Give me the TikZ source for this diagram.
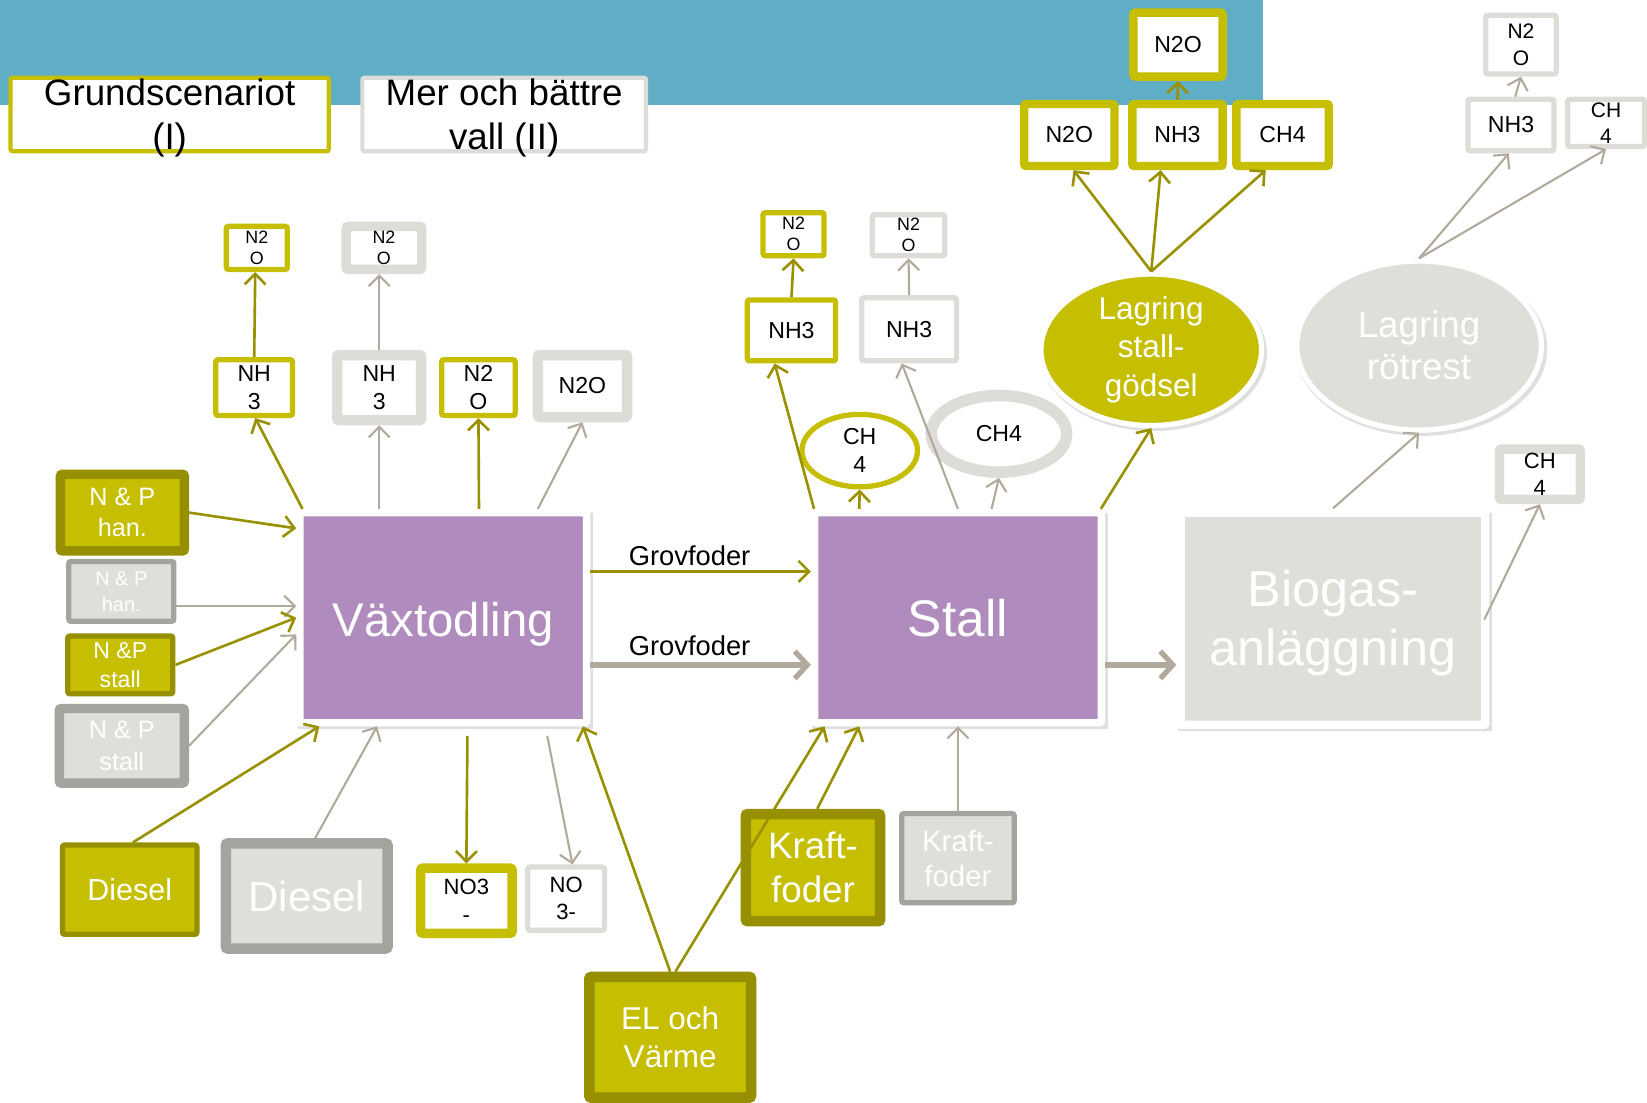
\documentclass[tikz,border=0pt]{standalone}
\usepackage{fontspec}
\setmainfont{Liberation Sans}
\usepackage{tikz}
\usetikzlibrary{arrows.meta,shapes.geometric,shadows}

\definecolor{gulgron}{HTML}{C6BE00}
\definecolor{mork}{HTML}{968F00}
\definecolor{lila}{HTML}{B08BBE}
\definecolor{ljusgra}{HTML}{E0DED8}
\definecolor{kantgra}{HTML}{DEDCD6}
\definecolor{mellangra}{HTML}{A5A39E}
\definecolor{himmel}{HTML}{5FAEC6}
\definecolor{pilgra}{HTML}{B1AA9C}
\definecolor{pilgul}{HTML}{9A9100}

\begin{document}
\begin{tikzpicture}[x=1pt,y=-1pt,
  txt/.style 2 args={font=\fontsize{#1}{#2}\selectfont},
  box/.style={rectangle,rounded corners=2pt,inner sep=0pt,align=center},
  gulram/.style={box,draw=gulgron,fill=white,text=black},
  grram/.style={box,draw=kantgra,fill=white,text=black},
  gulin/.style={box,draw=mork,fill=gulgron,text=white},
  grin/.style={box,draw=mellangra,fill=ljusgra,text=white},
  skugga/.style={drop shadow={shadow xshift=2pt,shadow yshift=-3pt,shadow scale=1.03,opacity=0.25}},
  process/.style={box,rounded corners=1pt,draw=white,text=white,skugga},
  lager/.style={ellipse,draw=white,line width=5pt,text=white,align=center,inner sep=0pt,skugga},
  gulpil/.style={draw=pilgul,line width=2.5pt,-{Straight Barb[length=10pt,width=20pt]}},
  grpil/.style={draw=pilgra,line width=2pt,-{Straight Barb[length=10pt,width=20pt]}},
  tjockpil/.style={draw=pilgra,line width=5pt,-{Straight Barb[length=12pt,width=26pt]}}]
\useasboundingbox (0,0) rectangle (1568,1050);
\fill[himmel] (0,0) rectangle (1202,100);

% legend
\node (grund) [box,draw=gulgron,fill=white,line width=4pt,minimum width=303pt,minimum height=70pt] at (161.5,109) {};
\node (grundtxt) [txt={35}{42},align=center] at ([yshift=-3pt]grund.center) {Grundscenariot\\(I)};
\node (vall) [box,draw=kantgra,fill=white,line width=4pt,minimum width=270pt,minimum height=70pt] at (480,109) {};
\node (valltxt) [txt={35}{42},align=center] at ([yshift=-3pt]vall.center) {Mer och bättre\\vall (II)};

% main processes
\node (vaxt) [process,fill=lila,line width=7pt,minimum width=273pt,minimum height=200pt,txt={45}{54},text height=45pt,text depth=10pt] at (422,588) {Växtodling};
\node (stall) [process,fill=lila,line width=7pt,minimum width=273pt,minimum height=200pt,txt={49}{58}] at (912,588) {Stall};
\node (bio) [process,fill=ljusgra,line width=8pt,minimum width=290pt,minimum height=202pt,txt={48}{57},text height=100pt,text depth=10pt] at (1269,589) {Biogas-\\anläggning};

% storage
\node (lagstall) [lager,fill=gulgron,minimum width=210pt,minimum height=132pt,txt={30}{37}] at (1096,333) {Lagring\\stall-\\gödsel};
\node (rotrest) [lager,fill=ljusgra,minimum width=233pt,minimum height=161pt,txt={35}{40}] at (1351,329) {Lagring\\rötrest};

% emissions from stall manure storage
\node (sgtop) [gulram,line width=8pt,minimum width=85pt,minimum height=61pt,txt={22}{26}] at (1121.5,42.5) {N2O};
\node (sgn2o) [gulram,line width=8pt,minimum width=86pt,minimum height=59pt,txt={22}{26}] at (1018,128.5) {N2O};
\node (sgnh3) [gulram,line width=8pt,minimum width=86pt,minimum height=59pt,txt={22}{26}] at (1121,128.5) {NH3};
\node (sgch4) [gulram,line width=8pt,minimum width=88pt,minimum height=59pt,txt={22}{26}] at (1221,128.5) {CH4};

% emissions from digestate storage
\node (rtn2o) [grram,line width=5pt,minimum width=67pt,minimum height=56pt,txt={20}{26}] at (1448,42.5) {N2\\O};
\node (rtnh3) [grram,line width=5pt,minimum width=82pt,minimum height=49pt,txt={22}{26}] at (1438.5,119) {NH3};
\node (rtch4) [grram,line width=5pt,minimum width=73pt,minimum height=45pt,txt={20}{25}] at (1529,117) {CH\\4};
\node (bioch4) [grram,line width=9pt,minimum width=77pt,minimum height=48pt,txt={21}{26}] at (1466,451.5) {CH\\4};

% emissions from crops
\node (vn2oa) [gulram,line width=5pt,minimum width=58pt,minimum height=41pt,txt={17}{20}] at (244.5,236) {N2\\O};
\node (vn2ob) [grram,line width=9pt,minimum width=72pt,minimum height=41pt,txt={17}{20}] at (365.5,236) {N2\\O};
\node (vnh3a) [gulram,line width=5pt,minimum width=73pt,minimum height=53pt,txt={22}{27}] at (242,369) {NH\\3};
\node (vnh3b) [grram,line width=10pt,minimum width=80pt,minimum height=62pt,txt={22}{27}] at (361,369) {NH\\3};
\node (vn2oc) [gulram,line width=5pt,minimum width=70pt,minimum height=53pt,txt={22}{27}] at (455.5,369) {N2\\O};
\node (vn2od) [grram,line width=10pt,minimum width=85pt,minimum height=59pt,txt={22}{26}] at (554.5,367.5) {N2O};
\node (no3a) [gulram,line width=9pt,minimum width=87pt,minimum height=62pt,txt={21}{26}] at (444,857.5) {NO3\\-};
\node (no3b) [grram,line width=5pt,minimum width=73pt,minimum height=60pt,txt={21}{26}] at (539,855.5) {NO\\3-};

% emissions from stall
\node (sn2oa) [gulram,line width=5pt,minimum width=58pt,minimum height=41pt,txt={17}{20}] at (755.5,223) {N2\\O};
\node (sn2ob) [grram,line width=5pt,minimum width=69pt,minimum height=39pt,txt={17}{20}] at (865,224) {N2\\O};
\node (snh3a) [gulram,line width=5pt,minimum width=84pt,minimum height=58pt,txt={22}{26}] at (753.5,314.5) {NH3};
\node (snh3b) [grram,line width=5pt,minimum width=90pt,minimum height=60pt,txt={22}{26}] at (865.5,313.5) {NH3};
\node (sch4a) [ellipse,draw=gulgron,fill=white,line width=5pt,inner sep=0pt,align=center,minimum width=110pt,minimum height=69pt,txt={22}{27}] at (818.5,429) {CH\\4};
\node (sch4b) [ellipse,draw=kantgra,fill=white,line width=11pt,inner sep=0pt,minimum width=129pt,minimum height=73pt,txt={22}{26}] at (951,413) {CH4};

% inputs
\node (nphy) [gulin,line width=9pt,minimum width=118pt,minimum height=73pt,txt={24}{30}] at (116.5,488) {N \& P\\han.};
\node (nphg) [grin,line width=5pt,minimum width=100pt,minimum height=57pt,txt={19}{25}] at (115.5,563) {N \& P\\han.};
\node (npsy) [gulin,line width=5pt,minimum width=100pt,minimum height=55pt,txt={22}{28}] at (114.5,633) {N \&P\\stall};
\node (npsg) [grin,line width=9pt,minimum width=119pt,minimum height=71pt,txt={24}{31}] at (116,710) {N \& P\\stall};
\node (diesy) [gulin,line width=5pt,minimum width=128pt,minimum height=85pt,txt={29}{35}] at (123.5,847) {Diesel};
\node (diesg) [grin,line width=10pt,minimum width=154pt,minimum height=100pt,txt={40}{48}] at (292,853) {Diesel};
\node (el) [gulin,line width=10pt,minimum width=154pt,minimum height=115pt,txt={30}{36}] at (638,987.5) {EL och\\Värme};
\node (krafta) [gulin,line width=10pt,minimum width=128pt,minimum height=102pt,txt={35}{42}] at (774,826) {Kraft-\\foder};
\node (kraftb) [grin,line width=5pt,minimum width=107pt,minimum height=85pt,txt={28}{33}] at (912,817) {Kraft-\\foder};

% flows
\draw[gulpil] ([yshift=44pt]vaxt.east) -- node[pos=0.45,above=1pt,txt={26}{31}] (gf1) {Grovfoder} ([yshift=44pt]stall.west);
\draw[tjockpil] ([yshift=-45pt]vaxt.east) -- node[pos=0.45,above=3pt,txt={26}{31}] (gf2) {Grovfoder} ([yshift=-45pt]stall.west);
\draw[tjockpil] ([yshift=-45pt]stall.east) -- ([yshift=-44pt]bio.west);

\draw[gulpil] (nphy.east) -- ([yshift=85pt]vaxt.west);
\draw[grpil] ([yshift=-14pt]nphg.east) -- ([yshift=11pt]vaxt.west);
\draw[gulpil] (npsy.east) -- (vaxt.west);
\draw[grpil] (npsg.east) -- ([yshift=-16pt]vaxt.west);
\draw[gulpil] ([xshift=3pt]diesy.north) -- ([xshift=-118pt]vaxt.south);
\draw[grpil] ([xshift=8pt]diesg.north) -- ([xshift=-63pt]vaxt.south);
\draw[gulpil] ([xshift=23pt,yshift=-9pt]vaxt.south) -- (no3a.north);
\draw[grpil] ([xshift=99pt,yshift=-9pt]vaxt.south) -- ([xshift=6pt]no3b.north);
\draw[gulpil] (el.north) -- ([xshift=133pt]vaxt.south);
\draw[gulpil] ([xshift=5pt]el.north) -- ([xshift=-127pt]stall.south);
\draw[gulpil] ([xshift=4pt]krafta.north) -- ([xshift=-94pt]stall.south);
\draw[grpil] (kraftb.north) -- (stall.south);

\draw[gulpil] ([xshift=-134pt]vaxt.north) -- ([xshift=1pt]vnh3a.south);
\draw[grpil] ([xshift=-61pt]vaxt.north) -- (vnh3b.south);
\draw[gulpil] ([xshift=34pt]vaxt.north) -- (vn2oc.south);
\draw[grpil] ([xshift=90pt]vaxt.north) -- (vn2od.south);
\draw[gulpil] (vnh3a.north) -- ([xshift=-1.5pt]vn2oa.south);
\draw[grpil] (vnh3b.north) -- ([xshift=-4.5pt]vn2ob.south);

\draw[gulpil] ([xshift=-137pt]stall.north) -- ([xshift=-16pt]snh3a.south);
\draw[gulpil] ([xshift=-94pt]stall.north) -- (sch4a.south);
\draw[grpil] (stall.north) -- ([xshift=-7pt]snh3b.south);
\draw[grpil] ([xshift=32pt]stall.north) -- (sch4b.south);
\draw[gulpil] ([xshift=136pt]stall.north) -- (lagstall.south);
\draw[gulpil] (snh3a.north) -- (sn2oa.south);
\draw[grpil] (snh3b.north) -- (sn2ob.south);

\draw[gulpil] (lagstall.north) -- ([xshift=4pt]sgn2o.south);
\draw[gulpil] (lagstall.north) -- ([xshift=-16pt]sgnh3.south);
\draw[gulpil] (lagstall.north) -- ([xshift=-16pt]sgch4.south);
\draw[gulpil] (sgnh3.north) -- (sgtop.south);

\draw[grpil] (bio.north) -- (rotrest.south);
\draw[grpil] ([xshift=-5pt,yshift=-1pt]bio.east) -- (bioch4.south);
\draw[grpil] (rotrest.north) -- ([xshift=-2pt]rtnh3.south);
\draw[grpil] (rotrest.north) -- (rtch4.south);
\draw[grpil] ([xshift=4pt]rtnh3.north) -- (rtn2o.south);
\end{tikzpicture}
\end{document}
